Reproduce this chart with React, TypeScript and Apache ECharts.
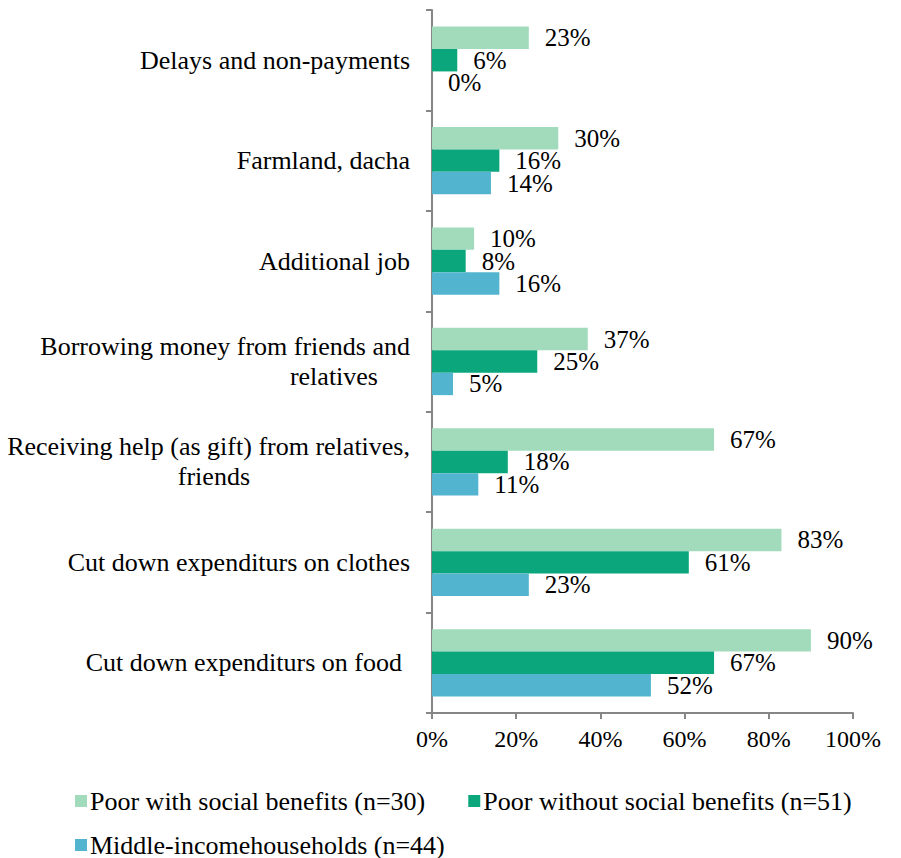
import React, { useEffect, useRef } from "react";
import * as echarts from "echarts";

const categories = [
  "Delays and non-payments",
  "Farmland, dacha",
  "Additional job",
  "Borrowing money from friends and\nrelatives",
  "Receiving help (as gift) from relatives,\nfriends",
  "Cut down expenditurs on clothes",
  "Cut down expenditurs on food",
];
const seriesNames = [
  "Poor with social benefits (n=30)",
  "Poor without social benefits (n=51)",
  "Middle-incomehouseholds (n=44)",
];
const poorWithBenefits = [23, 30, 10, 37, 67, 83, 90];
const poorWithoutBenefits = [6, 16, 8, 25, 18, 61, 67];
const middleIncome = [0, 14, 16, 5, 11, 23, 52];
const xTicks = [0, 20, 40, 60, 80, 100];

const colors = ["#A1DBBC", "#0CA67C", "#52B4CE"];
const FONT = "'Liberation Serif', 'DejaVu Serif', serif";
const CAT_SIZE = 26;

export default function App() {
  const ref = useRef<HTMLDivElement>(null);
  useEffect(() => {
    document.body.style.margin = "0";
    const chart = echarts.init(ref.current!, null, { renderer: "svg" });
    const values = [poorWithBenefits, poorWithoutBenefits, middleIncome];
    const secondLinePad: Record<string, number> = {
      relatives: 32,
      friends: 160,
    };
    const legendText = { fontFamily: FONT, fontSize: 26, color: "#000", padding: [0, 0, 0, -2] };
    chart.setOption({
      animation: false,
      textStyle: { fontFamily: FONT },
      grid: { left: 432, right: 48, top: 10, bottom: 145, containLabel: false },
      xAxis: {
        type: "value",
        min: 0,
        max: 100,
        interval: 20,
        splitLine: { show: false },
        axisLine: { show: true, lineStyle: { color: "#868686", width: 2 } },
        axisTick: { show: true, length: 6, lineStyle: { color: "#868686", width: 2 } },
        axisLabel: {
          formatter: (v: number) => (xTicks.includes(v) ? v + "%" : ""),
          color: "#000",
          fontFamily: FONT,
          fontSize: 24,
          margin: 14,
        },
      },
      yAxis: {
        type: "category",
        inverse: true,
        data: categories,
        axisLine: { show: true, lineStyle: { color: "#868686", width: 2 } },
        axisTick: { show: true, length: 6, lineStyle: { color: "#868686", width: 2 } },
        axisLabel: {
          color: "#000",
          fontFamily: FONT,
          fontSize: CAT_SIZE,
          margin: 22,
          lineHeight: 30,
          formatter: (v: string) => {
            const parts = v.split("\n");
            if (parts.length === 1) {
              if (v === "Cut down expenditurs on food") return "{c|" + v + "}";
              return v;
            }
            const key = parts[1].trim() === "relatives" ? "r" : "f";
            return "{a|" + parts[0] + "}\n{" + key + "|" + parts[1] + "}";
          },
          rich: {
            a: { fontFamily: FONT, fontSize: CAT_SIZE, lineHeight: 30, align: "right" },
            r: { fontFamily: FONT, fontSize: CAT_SIZE, lineHeight: 30, align: "right", padding: [0, secondLinePad.relatives, 0, 0] },
            f: { fontFamily: FONT, fontSize: CAT_SIZE, lineHeight: 30, align: "right", padding: [0, secondLinePad.friends, 0, 0] },
            c: { fontFamily: FONT, fontSize: CAT_SIZE, align: "right", padding: [0, 8, 0, 0] },
          },
        },
      },
      legend: [
        {
          data: [seriesNames[0], seriesNames[1]],
          left: 70,
          top: 783,
          itemWidth: 12,
          itemHeight: 12,
          itemGap: 43,
          icon: "rect",
          textStyle: legendText,
        },
        {
          data: [seriesNames[2]],
          left: 70,
          top: 827,
          itemWidth: 12,
          itemHeight: 12,
          icon: "rect",
          textStyle: legendText,
        },
      ],
      series: seriesNames.map((name, i) => ({
        name,
        type: "bar",
        data: values[i],
        barGap: "0%",
        barCategoryGap: "33%",
        itemStyle: { color: colors[i] },
        label: {
          show: true,
          position: "right",
          distance: 16,
          formatter: "{c}%",
          color: "#000",
          fontFamily: FONT,
          fontSize: 25,
          lineHeight: 21,
        },
      })),
    });
    return () => chart.dispose();
  }, []);
  return <div ref={ref} style={{ width: 901, height: 858 }} />;
}
